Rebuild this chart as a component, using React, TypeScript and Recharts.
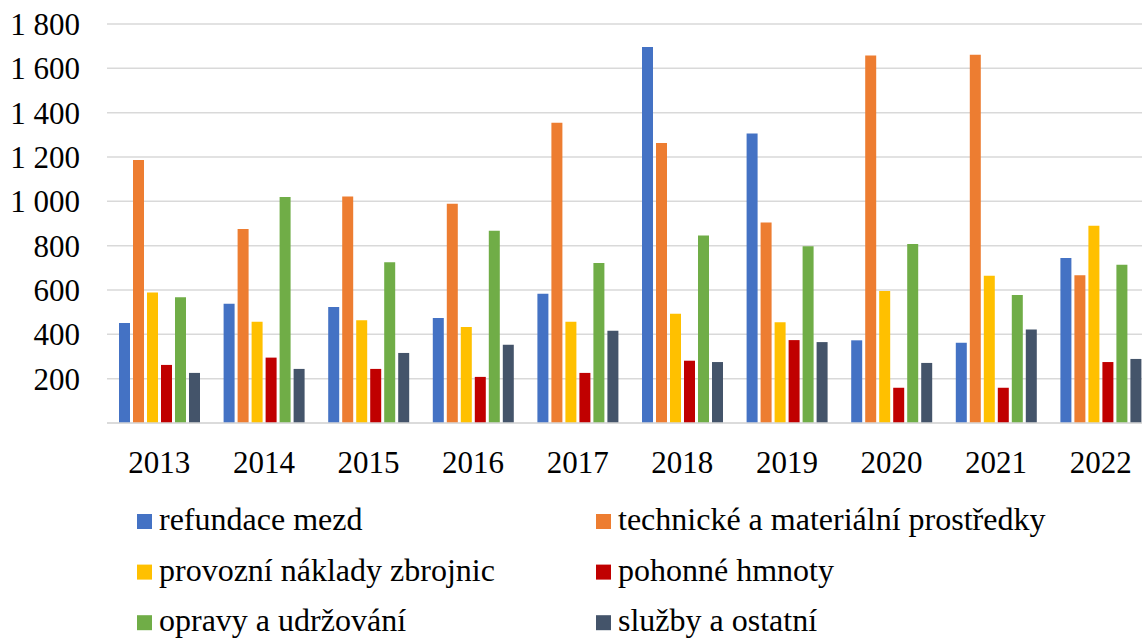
import { Bar, BarChart, CartesianGrid, XAxis, YAxis } from "recharts";

// Annual expenditure by item, 2013–2022.
const years = ["2013", "2014", "2015", "2016", "2017", "2018", "2019", "2020", "2021", "2022"];

const refundaceMezd = [451, 538, 523, 474, 583, 1696, 1306, 373, 362, 744];
const technickeProstredky = [1186, 875, 1022, 989, 1355, 1263, 905, 1658, 1661, 667];
const provozniNaklady = [589, 457, 463, 433, 457, 493, 454, 595, 664, 890];
const pohonneHmoty = [262, 295, 244, 208, 226, 281, 374, 159, 159, 275];
const opravyUdrzovani = [567, 1019, 725, 867, 722, 846, 797, 807, 577, 714];
const sluzbyOstatni = [226, 244, 316, 353, 416, 275, 365, 271, 422, 289];

const yTicks = [0, 200, 400, 600, 800, 1000, 1200, 1400, 1600, 1800];

const series = [
  { key: "refundace", name: "refundace mezd", color: "#4472C4", values: refundaceMezd },
  { key: "technicke", name: "technické a materiální prostředky", color: "#ED7D31", values: technickeProstredky },
  { key: "provozni", name: "provozní náklady zbrojnic", color: "#FFC000", values: provozniNaklady },
  { key: "pohonne", name: "pohonné hmnoty", color: "#C00000", values: pohonneHmoty },
  { key: "opravy", name: "opravy a udržování", color: "#70AD47", values: opravyUdrzovani },
  { key: "sluzby", name: "služby a ostatní", color: "#44546A", values: sluzbyOstatni },
];

const data = years.map((year, i) => {
  const row: Record<string, string | number> = { year };
  series.forEach((s) => {
    row[s.key] = s.values[i];
  });
  return row;
});

const FONT = "Liberation Serif, Times New Roman, serif";
const GRID = "#d9d9d9";

// Czech-style thousands separator ("1 800"); the zero tick stays unlabeled like in Excel.
function formatTick(value: number) {
  if (value === 0) return "";
  if (value < 1000) return String(value);
  return `${Math.floor(value / 1000)} ${String(value % 1000).padStart(3, "0")}`;
}

const LEGEND_MARKER_TOP = 514;
const LEGEND_ROW_STEP = 50.6;
const LEGEND_COLUMNS = [137, 596];

// Two-column legend below the axis, drawn as svg text so it uses the same serif face as the ticks.
function Legend2Col() {
  return (
    <svg
      width={1142}
      height={638}
      style={{ position: "absolute", left: 0, top: 0, pointerEvents: "none" }}
    >
      {series.map((s, i) => {
        const x = LEGEND_COLUMNS[i % 2];
        const y = LEGEND_MARKER_TOP + Math.floor(i / 2) * LEGEND_ROW_STEP;
        return (
          <g key={s.key}>
            <rect x={x} y={y} width={15} height={15} fill={s.color} />
            <text x={x + 22} y={y + 16} fontSize={32} fontFamily={FONT} fill="#000">
              {s.name}
            </text>
          </g>
        );
      })}
    </svg>
  );
}

export default function App() {
  return (
    <div
      style={{
        position: "absolute",
        left: 0,
        top: 0,
        width: 1142,
        height: 638,
        overflow: "hidden",
        background: "#fff",
      }}
    >
      <BarChart
        width={1153}
        height={500}
        data={data}
        margin={{ top: 24, right: 0, bottom: 0, left: 0 }}
        barSize={11}
        barGap={3}
      >
        <CartesianGrid vertical={false} stroke={GRID} strokeWidth={1.5} />
        <XAxis
          dataKey="year"
          height={77}
          tickSize={0}
          tickMargin={28}
          axisLine={{ stroke: GRID, strokeWidth: 1.5 }}
          tick={{ fill: "#000", fontSize: 31, fontFamily: FONT }}
          interval={0}
        />
        <YAxis
          width={107}
          domain={[0, 1800]}
          ticks={yTicks}
          tickFormatter={formatTick}
          tickSize={0}
          tickMargin={27}
          axisLine={false}
          tick={{ fill: "#000", fontSize: 31, fontFamily: FONT }}
          interval={0}
        />
        {series.map((s) => (
          <Bar key={s.key} dataKey={s.key} name={s.name} fill={s.color} isAnimationActive={false} />
        ))}
      </BarChart>
      <Legend2Col />
    </div>
  );
}
